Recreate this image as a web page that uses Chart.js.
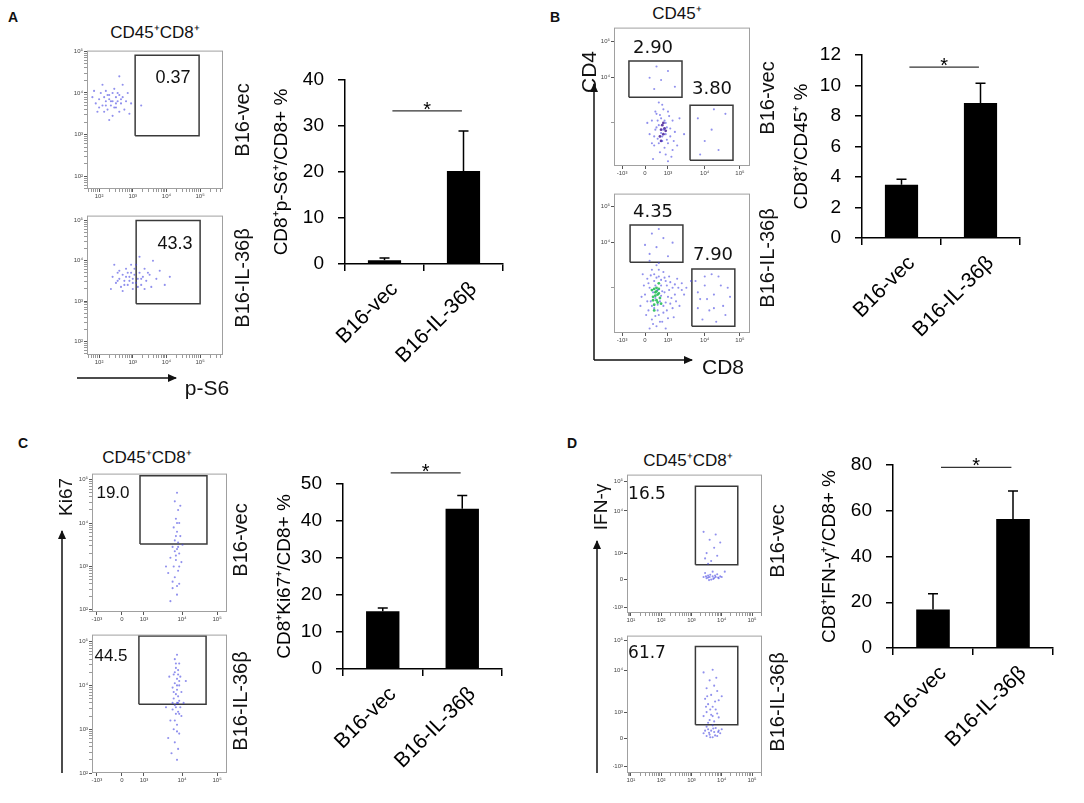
<!DOCTYPE html>
<html>
<head>
<meta charset="utf-8">
<script src="https://cdn.jsdelivr.net/npm/chart.js@4"></script>
<style>
  body { margin: 0; background: #fff; width: 1084px; height: 803px; position: relative; overflow: hidden;
         font-family: "Liberation Sans", Arial, sans-serif; color: #111; }
  .box { position: absolute; }
  .t { position: absolute; white-space: nowrap; line-height: 1; transform: translate(-50%, -50%); }
  .rot { transform: translate(-50%, -50%) rotate(-90deg); }
</style>
</head>
<body>
<svg class="box" style="left:0;top:0" width="1084" height="803">
  <defs>
    <marker id="ah" markerWidth="9" markerHeight="8" refX="8" refY="4" orient="auto" markerUnits="userSpaceOnUse">
      <path d="M0,0 L9,4 L0,8 z" fill="#111"/>
    </marker>
  </defs>
  <line x1="77" y1="378" x2="176" y2="378" stroke="#111" stroke-width="1.5" marker-end="url(#ah)"/>
  <line x1="594" y1="360" x2="594" y2="84" stroke="#111" stroke-width="1.5" marker-end="url(#ah)"/>
  <line x1="594" y1="360" x2="692" y2="360" stroke="#111" stroke-width="1.5" marker-end="url(#ah)"/>
  <line x1="62" y1="773" x2="62" y2="531" stroke="#111" stroke-width="1.5" marker-end="url(#ah)"/>
  <line x1="597" y1="773" x2="597" y2="541" stroke="#111" stroke-width="1.5" marker-end="url(#ah)"/>
</svg>
<script>
// ---- bar data ----
const groups = ["B16-vec", "B16-IL-36β"];
const pS6Pct = [0.8, 20.2];
const pS6Err = [0.5, 8.7];
const cd8Pct = [3.5, 8.85];
const cd8Err = [0.35, 1.3];
const ki67Pct = [15.6, 43.3];
const ki67Err = [0.9, 3.6];
const ifngPct = [16.8, 56.4];
const ifngErr = [6.9, 12.2];
const pS6Ticks = [0, 10, 20, 30, 40];
const cd8Ticks = [0, 2, 4, 6, 8, 10, 12];
const ki67Ticks = [0, 10, 20, 30, 40, 50];
const ifngTicks = [0, 20, 40, 60, 80];
const sigLevels = [33.3, 11.2, 53, 79];

// ---- flow gate percentages ----
const gatePctA = ["0.37", "43.3"];
const gatePctB = [["2.90", "3.80"], ["4.35", "7.90"]];
const gatePctC = ["19.0", "44.5"];
const gatePctD = ["16.5", "61.7"];

// flow axis ticks (display units)
const logMajors = [2, 3, 4, 5];
const logMajorLbls = ["10²", "10³", "10⁴", "10⁵"];
const logMajorsD = [1, 2, 3, 4, 5];
const logMajorLblsD = ["10¹", "10²", "10³", "10⁴", "10⁵"];
const biexTickValsB = [-1, 0, 1, 2.6, 4.13];
const biexTickValsC = [-1.14, 0, 1, 2.73, 4.32];
const biexTickLbls = ["-10³", "0", "10³", "10⁴", "10⁵"];
const cd4TickVals = [0, 2.0, 3.6];
const cd4TickLbls = ["", "10⁴", "10⁵"];
const ifnTickVals = [-1.04, 0, 1, 2.59, 3.7];

// gates [x1, y1, x2, y2]
const gatesAvec = [[3.07, 2.97, 4.97, 4.91]];
const gatesAil = [[3.1, 2.93, 5.0, 5.0]];
const gatesBvec = [[-0.7, 1.13, 1.61, 2.74], [1.96, -1.65, 3.83, 0.78]];
const gatesBil = [[-0.65, 1.13, 1.65, 2.78], [2.04, -1.7, 3.91, 0.83]];
const gatesCvec = [[0.82, 3.52, 3.86, 5.09]];
const gatesCil = [[0.77, 3.57, 3.82, 5.13]];
const gatesDvec = [[3.13, 0.56, 4.53, 3.52]];
const gatesDil = [[3.13, 0.52, 4.53, 3.48]];

// events
const dotsAvec = [[1.8,3.9],[1.9,3.75],[2.0,3.85],[2.05,4.0],[2.1,3.7],[2.15,3.9],[2.2,3.8],[2.2,4.05],[2.25,3.6],[2.3,3.85],[2.3,3.95],[2.35,3.7],[2.4,3.8],[2.45,4.1],[2.5,3.9],[2.5,3.65],[2.55,3.8],[2.6,3.95],[2.6,3.55],[2.65,3.75],[2.7,3.9],[2.75,3.6],[2.8,3.8],[2.85,4.0],[2.9,3.5],[2.4,3.45],[2.1,4.2],[2.7,4.2],[1.95,3.55],[3.25,3.7],[2.6,4.4],[2.3,3.35],
  [2.0,3.65],[2.15,3.55],[2.25,3.95],[2.35,3.8],[2.45,3.65],[2.55,4.0],[2.65,3.85],[2.4,4.0],[2.2,3.7],[2.5,3.75],[1.85,4.05],[2.95,3.75]];
const dotsAil = [[2.4,3.6],[2.5,3.45],[2.55,3.7],[2.6,3.55],[2.65,3.35],[2.7,3.65],[2.75,3.5],[2.8,3.8],[2.85,3.4],[2.9,3.6],[2.9,3.5],[2.95,3.7],[3.0,3.55],[3.0,3.3],[3.05,3.65],[3.1,3.45],[3.1,3.9],[3.15,3.55],[3.2,3.7],[3.25,3.4],[3.3,3.6],[3.35,3.8],[3.4,3.5],[3.5,3.65],[3.55,3.35],[3.6,4.0],[3.7,3.55],[3.8,3.75],[3.95,3.4],[2.45,3.9],[2.7,3.25],[3.2,4.1],[4.1,3.6],[2.35,3.3],
  [2.6,3.75],[2.8,3.6],[2.85,3.7],[3.0,3.45],[3.05,3.8],[3.15,3.35],[3.25,3.55],[2.75,3.4],[2.95,3.9],[3.45,3.7],[2.55,3.5],[3.35,3.3]];
const dotsBvec = [[0.2,-0.5],[0.3,0.1],[0.4,-1.0],[0.45,-0.3],[0.5,0.4],[0.55,-0.7],[0.6,-0.1],[0.65,-1.3],[0.7,-0.45],[0.7,0.2],[0.75,-0.8],[0.8,-0.3],[0.8,0.6],[0.85,-1.1],[0.9,-0.5],[0.9,0.0],[0.95,-0.2],[1.0,-0.9],[1.05,0.3],[1.1,-0.6],[1.15,-1.5],[1.2,0.1],[1.3,-0.4],[1.4,-1.0],[1.5,0.2],[0.35,-1.6],[0.6,0.9],[1.0,-1.7],[0.1,0.0],[1.7,-0.5],[0.4,1.5],[0.7,1.9],[1.0,2.3],[0.5,2.5],[1.3,1.6],[0.2,2.0],[2.3,0.2],[2.6,-0.8],[2.9,-0.3],[3.2,-1.2],[3.5,0.4],[2.4,-1.4],[3.0,0.6],
  [0.5,-0.2],[0.6,-0.9],[0.65,0.35],[0.75,-0.6],[0.85,0.1],[0.95,-0.75],[1.0,0.5],[1.1,-0.25],[1.25,-0.8],[0.4,-0.6],[0.55,0.1],[0.9,-1.4],[0.3,-0.9],[1.2,-1.2],[0.75,0.8],[0.45,0.5]];
const coreBvec = [[0.7,-0.3],[0.75,-0.1],[0.8,-0.5],[0.85,-0.25],[0.65,-0.6],[0.9,-0.35],[0.7,-0.8],[0.8,0.0]];
const dotsBil = [[0.0,-0.3],[0.1,0.4],[0.15,-1.0],[0.2,0.0],[0.25,-0.6],[0.3,0.8],[0.3,-1.4],[0.35,-0.2],[0.4,0.3],[0.4,-0.9],[0.45,-0.45],[0.5,1.0],[0.5,-1.7],[0.55,-0.1],[0.6,0.5],[0.6,-1.2],[0.65,-0.6],[0.7,0.1],[0.7,-0.35],[0.75,-1.5],[0.8,0.7],[0.8,-0.8],[0.85,-0.2],[0.9,0.3],[0.95,-1.0],[1.0,-0.4],[1.05,0.5],[1.1,-0.7],[1.2,0.0],[1.25,-1.3],[1.3,-0.3],[1.4,0.4],[1.5,-0.8],[-0.2,-0.8],[-0.1,0.6],[0.2,1.2],[0.9,-1.8],[1.6,-0.1],[0.45,0.1],[0.55,-0.75],
  [0.05,-1.2],[0.1,-0.6],[0.15,0.2],[0.25,0.55],[0.3,-0.8],[0.35,-1.6],[0.4,0.6],[0.45,-1.25],[0.5,0.45],[0.55,-1.0],[0.6,0.8],[0.65,-1.5],[0.7,0.35],[0.75,-0.15],[0.8,-1.1],[0.85,0.45],[0.9,-0.65],[0.95,0.1],[1.0,-1.35],[1.05,-0.1],[1.1,0.25],[1.15,-0.45],[1.2,-0.9],[1.3,0.15],[-0.05,0.1],[-0.15,-0.4],[0.2,-1.8],[0.6,1.1],[1.35,-0.6],[1.45,0.0],
  [0.2,1.5],[0.5,1.8],[0.8,2.2],[0.3,2.4],[1.0,1.4],[0.6,2.6],[1.2,2.0],[0.0,1.9],
  [2.2,0.3],[2.4,-0.5],[2.6,0.1],[2.8,-1.0],[3.0,-0.3],[3.2,0.5],[3.4,-0.8],[2.5,-1.4],[3.6,0.0],[2.9,0.6],[3.1,-1.5],[2.3,-0.9],[2.3,-0.2],[2.7,-0.5],[3.3,0.1],[3.5,-1.2],[2.6,0.5],[3.0,-0.9],[3.7,-0.4],
  [1.6,0.2],[1.8,0.0],[2.0,0.3],[1.7,-0.3]];
const coreBil = [[0.35,-0.4],[0.45,-0.2],[0.5,-0.55],[0.55,-0.3],[0.6,-0.05],[0.4,-0.75],[0.5,0.0],[0.65,-0.45],[0.3,-0.1],[0.7,-0.7],[0.6,0.2],[0.4,-1.0],[0.45,-0.35],[0.55,-0.65],[0.35,-0.55],[0.6,-0.25],[0.5,-0.15],[0.4,-0.05]];
const dotsCvec = [[2.5,4.7],[2.4,4.5],[2.55,4.3],[2.45,4.1],[2.6,4.0],[2.35,3.9],[2.5,3.8],[2.65,3.7],[2.4,3.6],[2.55,3.55],[2.3,3.45],[2.5,3.4],[2.6,3.3],[2.2,3.2],[2.45,3.15],[2.7,3.1],[2.35,3.0],[2.55,2.9],[2.1,2.85],[2.4,2.75],[2.6,2.6],[2.3,2.5],[2.5,2.35],[2.2,2.2],[2.75,3.5],[2.0,3.0],[2.65,4.4],[2.45,3.25],
  [2.5,4.0],[2.45,3.7],[2.55,3.45],[2.4,3.35],[2.6,3.0],[2.3,2.65],[2.5,2.55]];
const dotsCil = [[2.5,4.7],[2.4,4.6],[2.6,4.5],[2.45,4.4],[2.55,4.35],[2.35,4.25],[2.65,4.2],[2.5,4.15],[2.4,4.05],[2.6,4.0],[2.3,3.95],[2.5,3.9],[2.7,3.85],[2.45,3.8],[2.55,3.75],[2.35,3.7],[2.6,3.65],[2.5,3.6],[2.4,3.55],[2.65,3.5],[2.3,3.45],[2.55,3.4],[2.45,3.35],[2.7,3.3],[2.2,3.2],[2.5,3.1],[2.35,3.0],[2.6,2.9],[2.1,2.8],[2.4,2.7],[2.55,2.55],[2.25,2.45],[2.5,2.3],[2.8,3.6],[2.0,3.5],[2.9,4.1],[2.15,4.2],
  [2.45,4.5],[2.55,4.25],[2.4,4.3],[2.6,4.1],[2.5,4.0],[2.35,3.85],[2.55,3.6],[2.45,3.5],[2.6,3.35],[2.4,3.2],[2.5,2.95],[2.3,3.6]];
const dotsDvec = [[3.4,0.1],[3.5,0.05],[3.55,0.15],[3.6,0.1],[3.65,0.0],[3.7,0.12],[3.75,0.06],[3.8,0.1],[3.85,0.2],[3.9,0.05],[3.95,0.12],[4.0,0.1],[4.1,0.3],[3.45,0.25],[3.7,0.3],[3.4,1.8],[3.6,1.5],[3.75,1.2],[3.5,1.0],[3.85,0.9],[3.65,0.7],[3.95,1.4],[3.55,0.6],[3.8,1.7],[3.45,0.8],
  [3.55,0.08],[3.62,0.18],[3.72,0.02],[3.78,0.15],[3.88,0.08],[3.48,0.12],[3.58,-0.02]];
const dotsDil = [[3.4,0.2],[3.5,0.1],[3.55,0.35],[3.6,0.15],[3.65,0.3],[3.7,0.05],[3.75,0.25],[3.8,0.4],[3.85,0.1],[3.9,0.3],[3.95,0.2],[4.0,0.35],[3.5,0.45],[3.7,0.5],[3.4,2.5],[3.6,2.2],[3.75,2.0],[3.5,1.9],[3.85,1.8],[3.65,1.65],[3.45,1.5],[3.9,1.45],[3.55,1.3],[3.7,1.2],[3.8,1.1],[3.5,1.0],[3.65,0.9],[3.4,0.85],[3.9,0.8],[3.6,0.7],[3.75,0.65],[3.55,0.6],[4.0,1.6],[3.7,2.6],[3.85,0.95],
  [3.45,0.3],[3.58,0.22],[3.62,0.05],[3.72,0.38],[3.78,0.12],[3.88,0.25],[3.52,1.6],[3.62,1.1],[3.78,1.4],[3.7,0.85],[3.48,1.2],[3.82,2.3]];

Chart.defaults.font.family = '"Liberation Sans", Arial, sans-serif';
Chart.defaults.color = '#111';

// majors keep their label, minor decades get an unlabeled tick
function logTicks(range, majors, lbls) {
  const vals = [], out = [];
  for (let n = Math.floor(range[0]); n <= Math.ceil(range[1]); n++) {
    for (let k = 1; k <= 9; k++) {
      const v = n + Math.log10(k);
      if (v < range[0] || v > range[1]) continue;
      const j = majors.indexOf(n);
      vals.push(v);
      out.push(k === 1 && j >= 0 ? lbls[j] : '');
    }
  }
  return { vals, lbls: out };
}

function place(plot, m) {
  const w = plot.r - plot.l + m.l + m.r, h = plot.b - plot.t + m.t + m.b;
  const div = document.createElement('div');
  div.className = 'box';
  Object.assign(div.style, { left: (plot.l - m.l) + 'px', top: (plot.t - m.t) + 'px', width: w + 'px', height: h + 'px' });
  const cv = document.createElement('canvas');
  cv.width = w; cv.height = h;
  cv.style.width = w + 'px'; cv.style.height = h + 'px';
  div.appendChild(cv);
  document.body.appendChild(div);
  return cv;
}

function label(text, x, y, size, extra) {
  const d = document.createElement('div');
  d.className = 't' + (extra && extra.rot ? ' rot' : '');
  d.textContent = text;
  d.style.left = x + 'px'; d.style.top = y + 'px';
  d.style.fontSize = size + 'px';
  if (extra && extra.font) d.style.fontFamily = extra.font;
  if (extra && extra.bold) d.style.fontWeight = 'bold';
  document.body.appendChild(d);
}

// error bars + significance bar
const errorBars = {
  id: 'errorBars',
  afterDatasetsDraw(chart, args, opts) {
    const ctx = chart.ctx, ys = chart.scales.y, xs = chart.scales.x;
    const ds = chart.data.datasets[0];
    const meta = chart.getDatasetMeta(0);
    ctx.save();
    ctx.strokeStyle = '#000';
    ctx.lineWidth = 1.5;
    meta.data.forEach((bar, i) => {
      const top = ys.getPixelForValue(ds.data[i] + ds.errors[i]);
      ctx.beginPath();
      ctx.moveTo(bar.x, bar.y);
      ctx.lineTo(bar.x, top);
      ctx.moveTo(bar.x - 5, top);
      ctx.lineTo(bar.x + 5, top);
      ctx.stroke();
    });
    const w = xs.getPixelForValue(1) - xs.getPixelForValue(0);
    const x1 = xs.getPixelForValue(0) + 0.1 * w, x2 = xs.getPixelForValue(1) - 0.02 * w;
    const y = ys.getPixelForValue(opts.level);
    ctx.strokeStyle = '#333';
    ctx.lineWidth = 1.3;
    ctx.beginPath();
    ctx.moveTo(x1, y); ctx.lineTo(x2, y);
    ctx.stroke();
    ctx.fillStyle = '#000';
    ctx.font = '20px "Liberation Sans", Arial';
    ctx.textAlign = 'center';
    ctx.fillText('*', (x1 + x2) / 2, y + 5);
    ctx.restore();
  }
};

function barChart(plot, m, values, errs, ticks, title, sig) {
  const cv = place(plot, m);
  return new Chart(cv, {
    type: 'bar',
    data: {
      labels: groups,
      datasets: [{ data: values, errors: errs, backgroundColor: '#000', borderWidth: 0,
                   barPercentage: 0.42, categoryPercentage: 1 }]
    },
    options: {
      responsive: false, animation: false,
      layout: { padding: { top: m.t, right: m.r, left: 0, bottom: 0 } },
      plugins: { legend: { display: false }, tooltip: { enabled: false }, errorBars: { level: sig } },
      scales: {
        x: {
          grid: { drawOnChartArea: false, tickLength: 7, color: '#000', lineWidth: 1.5, offset: true },
          border: { color: '#000', width: 1.5 },
          ticks: { color: '#000', font: { size: 21 }, minRotation: 45, maxRotation: 45, padding: 6, labelOffset: 10 },
          afterFit: s => { s.height = m.b; }
        },
        y: {
          min: 0, max: ticks[ticks.length - 1],
          afterBuildTicks: s => { s.ticks = ticks.map(v => ({ value: v })); },
          grid: { drawOnChartArea: false, tickLength: 7, color: '#000', lineWidth: 1.5 },
          border: { color: '#000', width: 1.5 },
          ticks: { color: '#000', font: { size: 19 }, padding: 14 },
          title: { display: true, text: title, color: '#000', font: { size: 19 }, padding: { top: 0, bottom: 0 } },
          afterFit: s => { s.width = m.l; }
        }
      }
    },
    plugins: [errorBars]
  });
}

const frame = {
  id: 'frame',
  afterDraw(chart) {
    const a = chart.chartArea, c = chart.ctx;
    c.save();
    c.strokeStyle = '#a0a0a0';
    c.lineWidth = 1;
    c.strokeRect(a.left + 0.5, a.top + 0.5, a.width - 1, a.height - 1);
    c.restore();
  }
};

function flowAxis(range, t, horizontal, size) {
  return {
    type: 'linear', min: range[0], max: range[1],
    afterBuildTicks: s => { s.ticks = t.vals.map(v => ({ value: v })); },
    ticks: { callback: (v, i) => t.lbls[i], font: { size: 6 }, color: '#444', padding: 1, autoSkip: false, maxRotation: 0 },
    grid: { drawOnChartArea: false, tickLength: 3, color: '#555',
            lineWidth: c => (c.tick && t.lbls[c.index] === '' ? 0.6 : 1) },
    border: { display: false },
    afterFit: s => { if (horizontal) s.height = size; else s.width = size; }
  };
}

function gateLines(gates) {
  return gates.map(g => ({
    type: 'line',
    data: [{ x: g[0], y: g[1] }, { x: g[2], y: g[1] }, { x: g[2], y: g[3] }, { x: g[0], y: g[3] }, { x: g[0], y: g[1] }],
    borderColor: '#3a3a3a', borderWidth: 1.5, pointRadius: 0, fill: false, tension: 0
  }));
}

function flowPlot(plot, xr, yr, xt, yt, gates, dots, core, coreColor) {
  const m = { l: 14, t: 2, r: 6, b: 12 };
  const cv = place(plot, m);
  const sets = [{ type: 'scatter', data: dots.map(p => ({ x: p[0], y: p[1] })),
                  pointRadius: 1.05, borderWidth: 0, backgroundColor: 'rgba(70,70,225,0.6)' }];
  if (core) sets.push({ type: 'scatter', data: core.map(p => ({ x: p[0], y: p[1] })),
                        pointRadius: 1.4, borderWidth: 0, backgroundColor: coreColor });
  return new Chart(cv, {
    type: 'scatter',
    data: { datasets: sets.concat(gateLines(gates)) },
    options: {
      responsive: false, animation: false,
      layout: { padding: { top: m.t, right: m.r, left: 0, bottom: 0 } },
      plugins: { legend: { display: false }, tooltip: { enabled: false } },
      scales: { x: flowAxis(xr, xt, true, m.b), y: flowAxis(yr, yt, false, m.l) }
    },
    plugins: [frame]
  });
}

const lin = (vals, lbls) => ({ vals, lbls });

// ---- panel A ----
const axA = [1.64, 5.68];
flowPlot({ l: 87, t: 48, r: 223, b: 189 }, axA, [1.69, 5.02], logTicks(axA, logMajors, logMajorLbls), logTicks([1.69, 5.02], logMajors, logMajorLbls), gatesAvec, dotsAvec);
flowPlot({ l: 87, t: 213, r: 223, b: 355 }, axA, [1.66, 5.12], logTicks(axA, logMajors, logMajorLbls), logTicks([1.66, 5.12], logMajors, logMajorLbls), gatesAil, dotsAil);
barChart({ l: 345, t: 80, r: 503, b: 264 }, { l: 75, t: 45, r: 12, b: 100 }, pS6Pct, pS6Err, pS6Ticks, 'CD8⁺p-S6⁺/CD8+ %', sigLevels[0]);

// ---- panel B ----
const axB = [-1.35, 4.57];
flowPlot({ l: 614, t: 25, r: 750, b: 166 }, axB, [-1.91, 4.22], lin(biexTickValsB, biexTickLbls), lin(cd4TickVals, cd4TickLbls), gatesBvec, dotsBvec, coreBvec, 'rgba(70,30,150,0.85)');
flowPlot({ l: 614, t: 191, r: 750, b: 333 }, axB, [-2.0, 4.17], lin(biexTickValsB, biexTickLbls), lin(cd4TickVals, cd4TickLbls), gatesBil, dotsBil, coreBil, 'rgba(40,190,90,0.9)');
barChart({ l: 862, t: 55, r: 1020, b: 238 }, { l: 72, t: 40, r: 12, b: 100 }, cd8Pct, cd8Err, cd8Ticks, 'CD8⁺/CD45⁺ %', sigLevels[1]);

// ---- panel C ----
const axC = [-1.36, 4.77];
flowPlot({ l: 92, t: 471, r: 227, b: 612 }, axC, [1.95, 5.14], lin(biexTickValsC, biexTickLbls), logTicks([1.95, 5.14], logMajors, logMajorLbls), gatesCvec, dotsCvec);
flowPlot({ l: 92, t: 632, r: 227, b: 773 }, axC, [2.0, 5.16], lin(biexTickValsC, biexTickLbls), logTicks([2.0, 5.16], logMajors, logMajorLbls), gatesCil, dotsCil);
barChart({ l: 343, t: 484, r: 502, b: 669 }, { l: 70, t: 35, r: 12, b: 110 }, ki67Pct, ki67Err, ki67Ticks, 'CD8⁺Ki67⁺/CD8+ %', sigLevels[2]);

// ---- panel D ----
const axD = [0.87, 5.33];
flowPlot({ l: 627, t: 472, r: 762, b: 613 }, axD, [-1.26, 3.96], logTicks(axD, logMajorsD, logMajorLblsD), lin(ifnTickVals, biexTickLbls), gatesDvec, dotsDvec);
flowPlot({ l: 627, t: 633, r: 762, b: 773 }, axD, [-1.3, 3.89], logTicks(axD, logMajorsD, logMajorLblsD), lin(ifnTickVals, biexTickLbls), gatesDil, dotsDil);
barChart({ l: 893, t: 465, r: 1053, b: 648 }, { l: 75, t: 30, r: 12, b: 110 }, ifngPct, ifngErr, ifngTicks, 'CD8⁺IFN-γ⁺/CD8+ %', sigLevels[3]);

// ---- text ----
label('A', 13, 17, 14, { bold: true });
label('B', 555, 17, 14, { bold: true });
label('C', 23, 443, 14, { bold: true });
label('D', 572, 443, 14, { bold: true });
label('CD45⁺CD8⁺', 155, 32, 17);
label('CD45⁺', 677, 13, 17);
label('CD45⁺CD8⁺', 147, 457, 17);
label('CD45⁺CD8⁺', 688, 460, 17);

label(gatePctA[0], 173, 77, 18);
label(gatePctA[1], 175, 243, 18);
const dv = '"DejaVu Sans", Verdana, sans-serif';
label(gatePctB[0][0], 653, 47, 18, { font: dv });
label(gatePctB[0][1], 712, 88, 18, { font: dv });
label(gatePctB[1][0], 653, 211, 18, { font: dv });
label(gatePctB[1][1], 713, 254, 18, { font: dv });
label(gatePctC[0], 113, 492, 17);
label(gatePctC[1], 111, 655, 17);
label(gatePctD[0], 647, 493, 17, { font: dv });
label(gatePctD[1], 647, 652, 17, { font: dv });

label(groups[0], 242, 120, 20, { rot: true });
label(groups[1], 242, 278, 20, { rot: true });
label(groups[0], 767, 98, 20, { rot: true });
label(groups[1], 767, 258, 20, { rot: true });
label(groups[0], 240, 540, 20, { rot: true });
label(groups[1], 240, 701, 20, { rot: true });
label(groups[0], 777, 541, 20, { rot: true });
label(groups[1], 777, 702, 20, { rot: true });

label('p-S6', 207, 387, 21);
label('CD4', 588, 72, 21, { rot: true });
label('CD8', 723, 366, 21);
label('Ki67', 65, 497, 19, { rot: true });
label('IFN-γ', 600, 507, 19, { rot: true });
</script>
</body>
</html>
